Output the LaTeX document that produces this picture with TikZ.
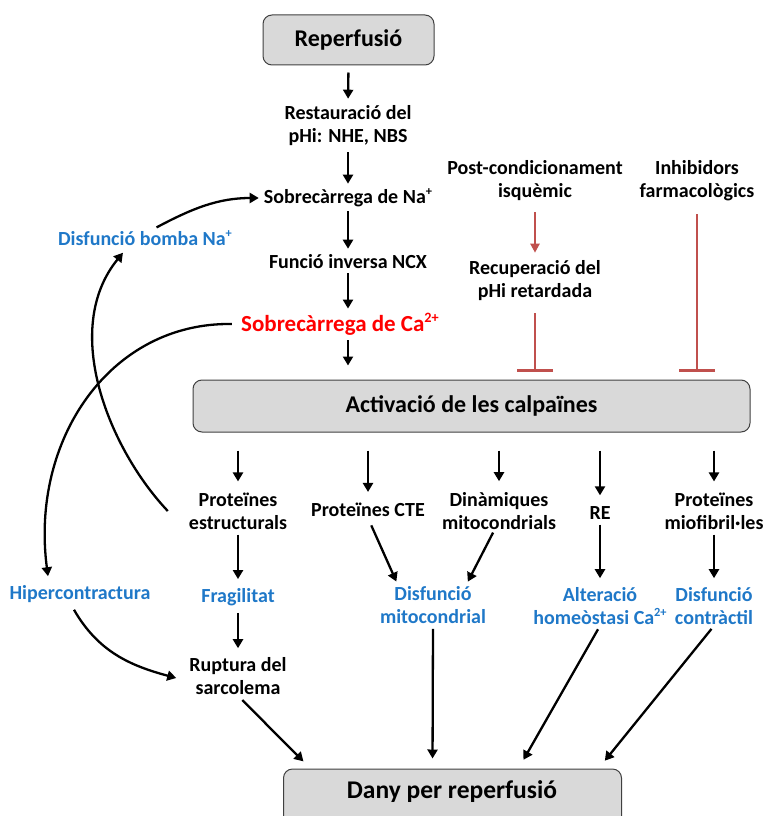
\documentclass[tikz,border=0pt]{standalone}
\usepackage{fontspec}
\setmainfont{Carlito}
\usetikzlibrary{arrows.meta}
\definecolor{boxgray}{HTML}{D9D9D9}
\definecolor{effblue}{HTML}{1F78C8}
\definecolor{inhred}{HTML}{C0504D}
\definecolor{keyred}{HTML}{FF0000}
% small raised ion charge
\newcommand\ionsup[1]{\raisebox{0.40em}{\scalebox{0.62}{#1}}}
\tikzset{
  txt/.style={font=\bfseries\fontsize{20}{23}\selectfont, align=center, inner sep=1pt},
  bluetxt/.style={txt, text=effblue},
  boxfont/.style={font=\bfseries\fontsize{24}{26}\selectfont},
  mainbox/.style={draw=black!75, fill=boxgray, rounded corners=9pt, line width=1pt, boxfont},
  arr/.style={-{Triangle[length=9pt,width=10pt]}, line width=2.3pt},
  redarr/.style={draw=inhred, line width=2.2pt, -{Triangle[length=9pt,width=9pt]}},
  inhib/.style={draw=inhred, line width=2.5pt, -{Bar[width=36pt,line width=2.5pt]}},
}
\begin{document}
\begin{tikzpicture}[x=1pt,y=-1pt]
\useasboundingbox (0,0) rectangle (764,816);

% central chain
\node[mainbox, minimum width=171pt, minimum height=50pt] (rep) at (348.5,40) {Reperfusió};
\node[txt] (rest) at (348,126) {Restauració del\\pHi: NHE, NBS};
\node[txt] (sna) at (348,198) {Sobrecàrrega de Na\ionsup{+}};
\node[txt] (ncx) at (348,262) {Funció inversa NCX};
\node[txt, text=keyred, font=\bfseries\fontsize{23}{26}\selectfont] (sca) at (340,324) {Sobrecàrrega de Ca\ionsup{2+}};
\node[mainbox, minimum width=557pt, minimum height=52pt] (act) at (471.5,406) {Activació de les calpaïnes};

% protective interventions
\node[txt] (post) at (535,181) {Post-condicionament\\isquèmic};
\node[txt] (rec) at (535,281) {Recuperació del\\pHi retardada};
\node[txt] (inh) at (697,181) {Inhibidors\\farmacològics};

% side loop
\node[bluetxt] (dbn) at (145,238) {Disfunció bomba Na\ionsup{+}};
\node[bluetxt] (hip) at (80,594) {Hipercontractura};

% calpain targets
\node[txt] (pe) at (238,511) {Proteïnes\\estructurals};
\node[txt] (cte) at (368,510) {Proteïnes CTE};
\node[txt] (din) at (499,511) {Dinàmiques\\mitocondrials};
\node[txt] (re) at (600,513) {RE};
\node[txt] (mio) at (714,511) {Proteïnes\\miofibril·les};

% consequences
\node[bluetxt] (fra) at (238,597) {Fragilitat};
\node[txt] (rup) at (238,676) {Ruptura del\\sarcolema};
\node[bluetxt] (dmi) at (433,605) {Disfunció\\mitocondrial};
\node[bluetxt] (alt) at (600,606) {Alteració\\homeòstasi Ca\ionsup{2+}};
\node[bluetxt] (dco) at (714,606) {Disfunció\\contràctil};

\node[mainbox, minimum width=338pt, minimum height=62pt] (dany) at (452.5,800) {};
\node[font=\bfseries\fontsize{25.5}{28}\selectfont] (danyt) at (452,792) {Dany per reperfusió};

% central arrows
\draw[arr, shorten <=7pt, shorten >=6pt] (rep.south) -- (rest.north);
\draw[arr, shorten <=5pt, shorten >=4pt] (rest.south) -- (sna.north);
\draw[arr, shorten <=3pt, shorten >=5pt] (sna.south) -- (ncx.north);
\draw[arr, shorten <=3pt, shorten >=3pt] (ncx.south) -- (sca.north -| ncx.south);
\draw[arr, shorten <=4pt, shorten >=14pt] (sca.south -| ncx.south) -- (act.north -| ncx.south);

% inhibition
\draw[redarr, shorten <=10pt, shorten >=7pt] (post.south) -- (rec.north);
\draw[inhib, shorten <=11pt, shorten >=8pt] (rec.south) -- (act.north -| rec.south);
\draw[inhib, shorten <=12pt, shorten >=8pt] (inh.south) -- (act.north -| inh.south);

% arrows to targets
\foreach \t in {pe,cte,din,re,mio}
  \draw[arr, shorten <=18pt, shorten >=10pt] (act.south -| \t.north) -- (\t.north);

% target to consequence
\draw[arr, shorten <=4pt, shorten >=8pt] (pe.south) -- (fra.north);
\draw[arr, shorten <=6pt, shorten >=8pt] (fra.south) -- (rup.north);
\draw[arr, shorten <=8pt, shorten >=4pt] (cte.south) -- ([xshift=-35pt]dmi.north);
\draw[arr, shorten <=2pt, shorten >=4pt] ([xshift=-5pt]din.south) -- ([xshift=33pt]dmi.north);
\draw[arr, shorten <=4pt, shorten >=8pt] (re.south) -- (alt.north);
\draw[arr, shorten <=4pt, shorten >=8pt] (mio.south) -- (dco.north);

% into final damage
\draw[arr, shorten <=6pt, shorten >=10pt] (rup.south) -- ([xshift=-142pt]dany.north);
\draw[arr, shorten <=4pt, shorten >=10pt] (dmi.south) -- ([xshift=-20pt]dany.north);
\draw[arr, shorten <=4pt, shorten >=10pt] (alt.south) -- ([xshift=66pt]dany.north);
\draw[arr, shorten <=4pt, shorten >=10pt] (dco.south) -- ([xshift=146pt]dany.north);

% feedback loops
\draw[arr, shorten <=4pt, shorten >=4pt] ([xshift=8pt]dbn.north) to[out=28, in=180] (sna.west);
\draw[arr] ([xshift=-20pt]pe.west) .. controls (110,450) and (60,330) .. ([xshift=-22pt,yshift=-6pt]dbn.south);
\draw[arr] ([xshift=-8pt]sca.west) .. controls (110,322) and (30,440) .. ([xshift=-32pt,yshift=8pt]hip.north);
\draw[arr] ([xshift=-6pt,yshift=-6pt]hip.south) to[out=-60, in=165] ([xshift=-12pt,yshift=-2pt]rup.west);
\end{tikzpicture}
\end{document}
